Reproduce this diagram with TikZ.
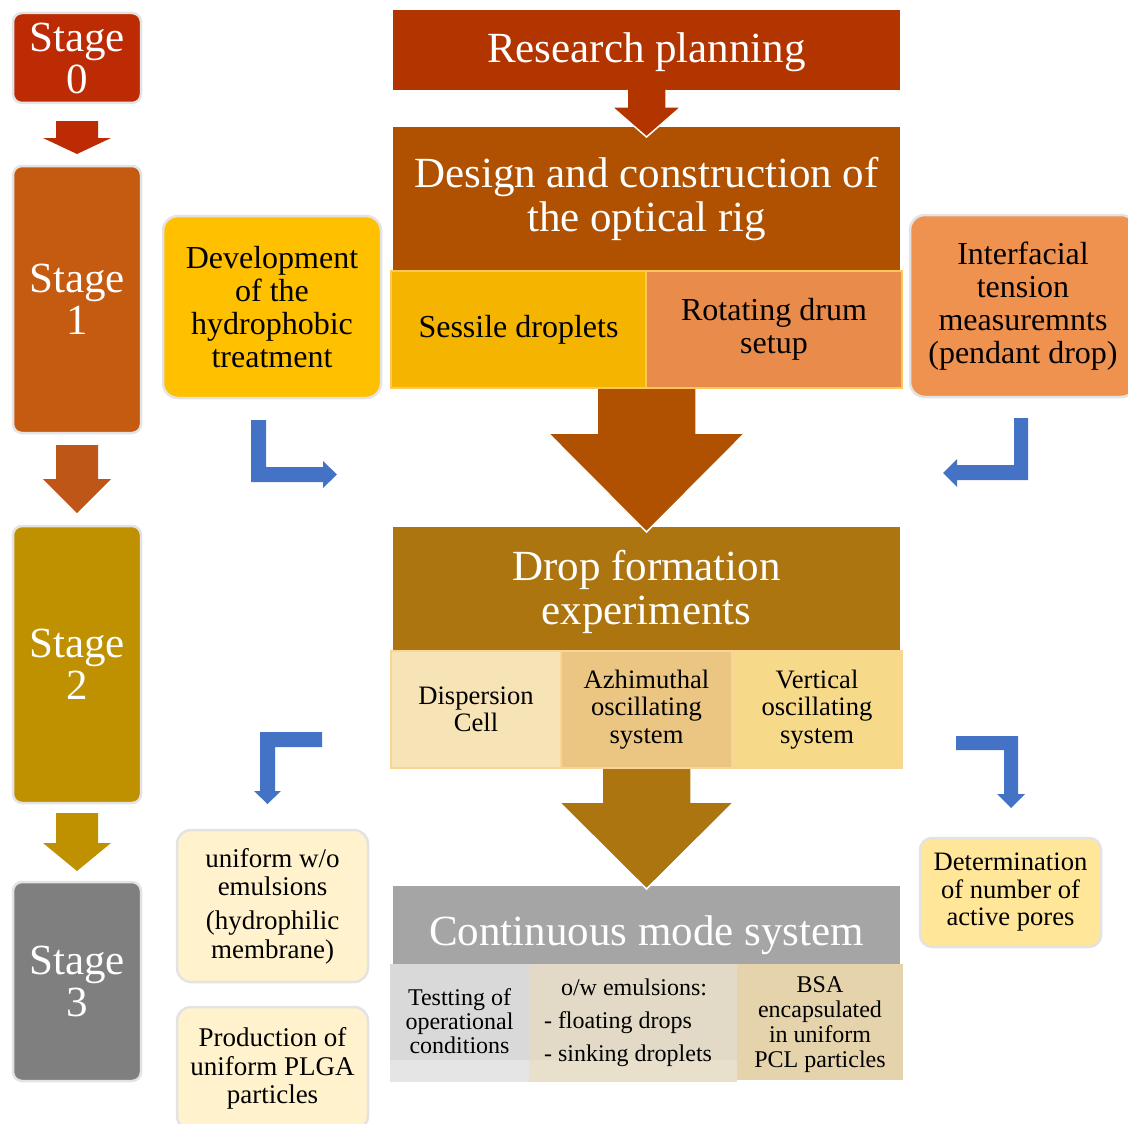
\documentclass[tikz,border=0pt]{standalone}
\usepackage{fontspec}
\setmainfont{Liberation Serif}
\usetikzlibrary{calc}
\definecolor{rimgray}{HTML}{E3E3E3}
\definecolor{cS0}{HTML}{BD2B05}
\definecolor{cS1}{HTML}{C55A11}
\definecolor{cA1}{HTML}{BD5616}
\definecolor{cS2}{HTML}{BF9000}
\definecolor{cS3}{HTML}{7F7F7F}
\definecolor{cRes}{HTML}{B23500}
\definecolor{cDes}{HTML}{AF5100}
\definecolor{cSes}{HTML}{F5B400}
\definecolor{cSesB}{HTML}{FFC75A}
\definecolor{cRot}{HTML}{E98C4B}
\definecolor{cDev}{HTML}{FFC000}
\definecolor{cInt}{HTML}{EF914F}
\definecolor{cDrop}{HTML}{AC7510}
\definecolor{cDisp}{HTML}{F6E3B6}
\definecolor{cAzi}{HTML}{EBC582}
\definecolor{cVer}{HTML}{F7D98A}
\definecolor{cMidB}{HTML}{F8D597}
\definecolor{cCms}{HTML}{A5A5A5}
\definecolor{cTest}{HTML}{D9D9D9}
\definecolor{cTestL}{HTML}{E5E5E5}
\definecolor{cOw}{HTML}{E2DAC7}
\definecolor{cOwL}{HTML}{E9E0CC}
\definecolor{cBsa}{HTML}{E5D3AC}
\definecolor{cCream}{HTML}{FFF2CC}
\definecolor{cDet}{HTML}{FFE699}
\definecolor{cBlue}{HTML}{4472C4}
\newcommand{\BlockDown}[7]{%
  \fill[#6] let \p1=#1, \p2=#2 in
    (\x1-#3,\y1) -- (\x1+#3,\y1) -- (\x1+#3,\y2+#5) -- (\x1+#4,\y2+#5)
    -- (\x1,\y2) -- (\x1-#4,\y2+#5) -- (\x1-#3,\y2+#5) -- cycle;
  \draw[#7] let \p1=#1, \p2=#2 in
    (\x1+#3,\y1) -- (\x1+#3,\y2+#5) -- (\x1+#4,\y2+#5)
    -- (\x1,\y2) -- (\x1-#4,\y2+#5) -- (\x1-#3,\y2+#5) -- (\x1-#3,\y1);}
\newcommand{\TopStrut}[1]{\rule{0pt}{#1}}
\begin{document}
\begin{tikzpicture}[x=1pt,y=-1pt,
  stagebox/.style={draw=rimgray, line width=2.5pt, rounded corners=9pt, text=white, align=center,
    inner sep=0pt, outer sep=0pt, minimum width=128pt, font=\fontsize{43}{42}\selectfont},
  hdrbox/.style={inner sep=0pt, outer sep=0pt, text=white, align=center, minimum width=507pt,
    font=\fontsize{43}{44}\selectfont},
  cellbox/.style={inner sep=0pt, outer sep=0pt, align=center, text=black},
  sidebox/.style={draw=rimgray, line width=2.5pt, rounded corners=15pt, align=center,
    inner sep=0pt, outer sep=0pt, text=black},
  fA/.style={font=\fontsize{32}{33}\selectfont},
  fB/.style={font=\fontsize{26.6}{27.5}\selectfont},
  fS/.style={font=\fontsize{27}{28.3}\selectfont},
  fT/.style={font=\fontsize{24}{24}\selectfont},
  fC/.style={font=\fontsize{24}{25}\selectfont},
  bluearrow/.style={fill=cBlue},
  outl/.style={draw=white, line width=1.5pt, line join=miter},
]
\useasboundingbox (0,0) rectangle (1128,1124);
\clip (0,0) rectangle (1128,1124);

% stage column
\node[stagebox, fill=cS0, minimum height=90pt] (s0) at (77,58) {Stage\\0};
\node[stagebox, fill=cS1, minimum height=267pt] (s1) at (77,299.5) {Stage\\1};
\node[stagebox, fill=cS2, minimum height=277pt] (s2) at (77,664.5) {Stage\\2};
\node[stagebox, fill=cS3, minimum height=199pt] (s3) at (77,981.5) {Stage\\3};
\BlockDown{($(s0.south)+(0,18)$)}{($(s1.north)+(0,-12)$)}{21pt}{34pt}{16pt}{cS0}{draw=none}
\BlockDown{($(s1.south)+(0,12)$)}{($(s2.north)+(0,-13)$)}{21pt}{34pt}{34pt}{cA1}{draw=none}
\BlockDown{($(s2.south)+(0,10)$)}{($(s3.north)+(0,-11)$)}{21pt}{34pt}{28pt}{cS2}{draw=none}

% central column
\node[hdrbox, fill=cDes, minimum height=145pt] (des) at (646.5,199.5) {Design and construction of\\the optical rig};
\node[hdrbox, fill=cRes, minimum height=80pt] (res) at (646.5,50) {\TopStrut{34pt}Research planning};
\BlockDown{(res.south)}{($(des.north)+(0,10)$)}{19.5pt}{34.5pt}{30pt}{cRes}{outl}
\node[cellbox, fA, fill=cSes, draw=cSesB, line width=1.5pt, minimum width=255pt, minimum height=117pt] (ses) at (518.5,329.5) {Sessile droplets};
\node[cellbox, fA, fill=cRot, draw=cSesB, line width=1.5pt, minimum width=256pt, minimum height=117pt] (rot) at (774,329.5) {Rotating drum\\setup};

\node[hdrbox, fill=cDrop, minimum height=124pt] (drop) at (646.5,589) {\TopStrut{37pt}Drop formation\\experiments};
\BlockDown{($(des.center |- ses.south)+(0,1)$)}{($(drop.north)+(0,5)$)}{49.5pt}{98.5pt}{99pt}{cDes}{outl}
\node[cellbox, fB, fill=cDisp, draw=cMidB, line width=1.5pt, minimum width=170pt, minimum height=117pt] (disp) at (476,709.5) {Dispersion\\Cell};
\node[cellbox, fB, fill=cAzi, draw=cMidB, line width=1.5pt, minimum width=171pt, minimum height=117pt] (azi) at (646.5,709.5) {Azhimuthal\\oscillating\\system};
\node[cellbox, fB, fill=cVer, draw=cMidB, line width=1.5pt, minimum width=170pt, minimum height=117pt] (ver) at (817,709.5) {Vertical\\oscillating\\system};

\node[hdrbox, fill=cCms, minimum height=78pt, text height=40pt, text depth=0pt] (cms) at (646.5,925) {Continuous mode system};
\BlockDown{($(azi.south)+(0,1)$)}{($(cms.north)+(0,3)$)}{44.5pt}{87.5pt}{87pt}{cDrop}{outl}
\node[cellbox, fill=cTest, minimum width=139pt, minimum height=118pt] (test) at (459.5,1023) {};
\fill[cTestL] ($(test.south west)+(0,-22)$) rectangle (test.south east);
\node[cellbox, fT] (test-t) at ($(test.center)+(0,-2)$) {Testting of\\operational\\conditions};
\node[cellbox, fill=cOw, minimum width=208pt, minimum height=118pt] (ow) at (633,1023) {};
\fill[cOwL] ($(ow.south west)+(0,-22)$) rectangle (ow.south east);
\node[cellbox, fC, align=left] (ow-t) at (ow.center) {\hspace*{17pt}o/w emulsions:\\[8pt]- floating drops\\[8pt]- sinking droplets\hspace*{10pt}};
\node[cellbox, fC, fill=cBsa, minimum width=166pt, minimum height=116pt] (bsa) at (820,1022) {\TopStrut{22pt}BSA\\encapsulated\\in uniform\\PCL particles};

% side boxes
\node[sidebox, fA, fill=cDev, minimum width=218pt, minimum height=182pt] (dev) at (272,307) {Development\\of the\\hydrophobic\\treatment};
\node[sidebox, fA, fill=cInt, minimum width=226pt, minimum height=182pt] (int) at (1023,306) {Interfacial\\tension\\measuremnts\\(pendant drop)};
\node[sidebox, fS, fill=cCream, rounded corners=14pt, minimum width=191pt, minimum height=152pt] (uni) at (272.5,906) {uniform w/o\\emulsions\\[6pt](hydrophilic\\membrane)};
\node[sidebox, fS, fill=cCream, rounded corners=14pt, minimum width=191pt, minimum height=123pt] (prod) at (272.5,1068.5) {Production of\\uniform PLGA\\particles};
\node[sidebox, fB, fill=cDet, rounded corners=12pt, minimum width=181pt, minimum height=109pt] (det) at (1010.5,892.5) {Determination\\of number of\\active pores};

% blue bent arrows
\coordinate (ba) at (251,420);
\fill[bluearrow] (ba) -- ++(15,0) -- ++(0,47) -- ++(57,0) -- ++(0,-6) -- ++(14,13.5) -- ++(-14,13.5) -- ++(0,-6) -- ++(-72,0) -- cycle;
\coordinate (bb) at (1014,418);
\fill[bluearrow] (bb) -- ++(14,0) -- ++(0,62) -- ++(-71,0) -- ++(0,7) -- ++(-14,-14) -- ++(14,-14) -- ++(0,6) -- ++(57,0) -- cycle;
\coordinate (bc) at (322,732);
\fill[bluearrow] (bc) -- ++(0,15) -- ++(-47,0) -- ++(0,44) -- ++(6,0) -- ++(-13.5,13) -- ++(-13.5,-13) -- ++(6,0) -- ++(0,-59) -- cycle;
\coordinate (bd) at (956,736);
\fill[bluearrow] (bd) -- ++(62,0) -- ++(0,58) -- ++(7,0) -- ++(-14,14) -- ++(-14,-14) -- ++(7,0) -- ++(0,-44) -- ++(-48,0) -- cycle;
\end{tikzpicture}
\end{document}
